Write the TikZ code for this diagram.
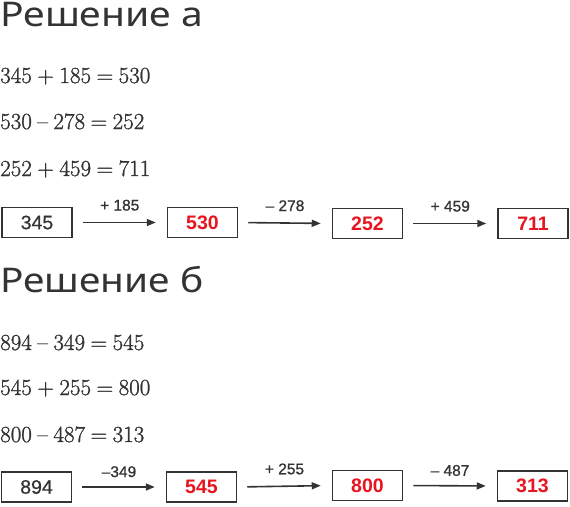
\documentclass[tikz,border=0pt]{standalone}
\usepackage{fontspec}
\newfontfamily\headfont{Noto Sans}
\newfontfamily\boxfont{Liberation Sans}
\newfontfamily\eqfont{Latin Modern Roman}[FakeBold=1.2]
\usetikzlibrary{arrows.meta}
\definecolor{ink}{HTML}{333333}
\definecolor{eqink}{HTML}{333333}
\definecolor{res}{HTML}{E8141E}
\newcommand\eqgap{\hspace{5.5pt}}
\begin{document}
\begin{tikzpicture}[x=1pt,y=-1pt,
  numbox/.style={draw=ink,line width=1.5pt,minimum width=70pt,minimum height=30pt,inner sep=0pt,
    font=\boxfont\fontsize{19.5}{21}\selectfont\addfontfeatures{FakeBold=0.6},text=ink},
  resbox/.style={numbox,text=res,font=\boxfont\bfseries\fontsize{19.5}{21}\selectfont},
  oplabel/.style={above=11pt,inner sep=0pt,font=\boxfont\fontsize{15.5}{17}\selectfont\addfontfeatures{FakeBold=0.9},text=ink},
  flow/.style={draw=ink,line width=1.6pt,shorten <=10pt,shorten >=11pt,-{Triangle[length=9pt,width=7pt]}},
  heading/.style={anchor=base west,inner sep=0pt,font=\headfont\fontsize{34}{36}\selectfont,text=ink},
  eq/.style={anchor=base west,inner sep=0pt,font=\eqfont\fontsize{23}{26}\selectfont,text=eqink}]
\useasboundingbox[fill=white] (0,0) rectangle (570,506);

% Part a
\node[heading] (ha) at (0,27) {\resizebox{203pt}{\height}{Решение а}};
\node[eq] (ea1) at (0,83) {345\eqgap+\eqgap185\eqgap=\eqgap530};
\node[eq] (ea2) at (0,129) {530\eqgap–\eqgap278\eqgap=\eqgap252};
\node[eq] (ea3) at (0,176) {252\eqgap+\eqgap459\eqgap=\eqgap711};

\node[numbox] (a345) at (37,222.5) {345};
\node[resbox] (a530) at (202.5,222.5) {530};
\node[resbox] (a252) at (367.5,223.5) {252};
\node[resbox] (a711) at (533,223.5) {711};
\draw[flow] (a345.east) -- node[oplabel] (la1) {+ 185} (a530.west);
\draw[flow] (a530.east) -- node[oplabel] (la2) {– 278} (a252.west);
\draw[flow] (a252.east) -- node[oplabel] (la3) {+ 459} (a711.west);

% Part b
\node[heading] (hb) at (0,292) {\resizebox{203pt}{\height}{Решение б}};
\node[eq] (eb1) at (0,350) {894\eqgap–\eqgap349\eqgap=\eqgap545};
\node[eq] (eb2) at (0,395) {545\eqgap+\eqgap255\eqgap=\eqgap800};
\node[eq] (eb3) at (0,442) {800\eqgap–\eqgap487\eqgap=\eqgap313};

\node[numbox] (b894) at (36.5,487) {894};
\node[resbox] (b545) at (201.5,487) {545};
\node[resbox] (b800) at (367.5,485.5) {800};
\node[resbox] (b313) at (532.5,486) {313};
\draw[flow] (b894.east) -- node[oplabel,yshift=-2pt] (lb1) {–349} (b545.west);
\draw[flow] (b545.east) -- node[oplabel] (lb2) {+ 255} (b800.west);
\draw[flow] (b800.east) -- node[oplabel,yshift=-2pt] (lb3) {– 487} (b313.west);
\end{tikzpicture}
\end{document}
